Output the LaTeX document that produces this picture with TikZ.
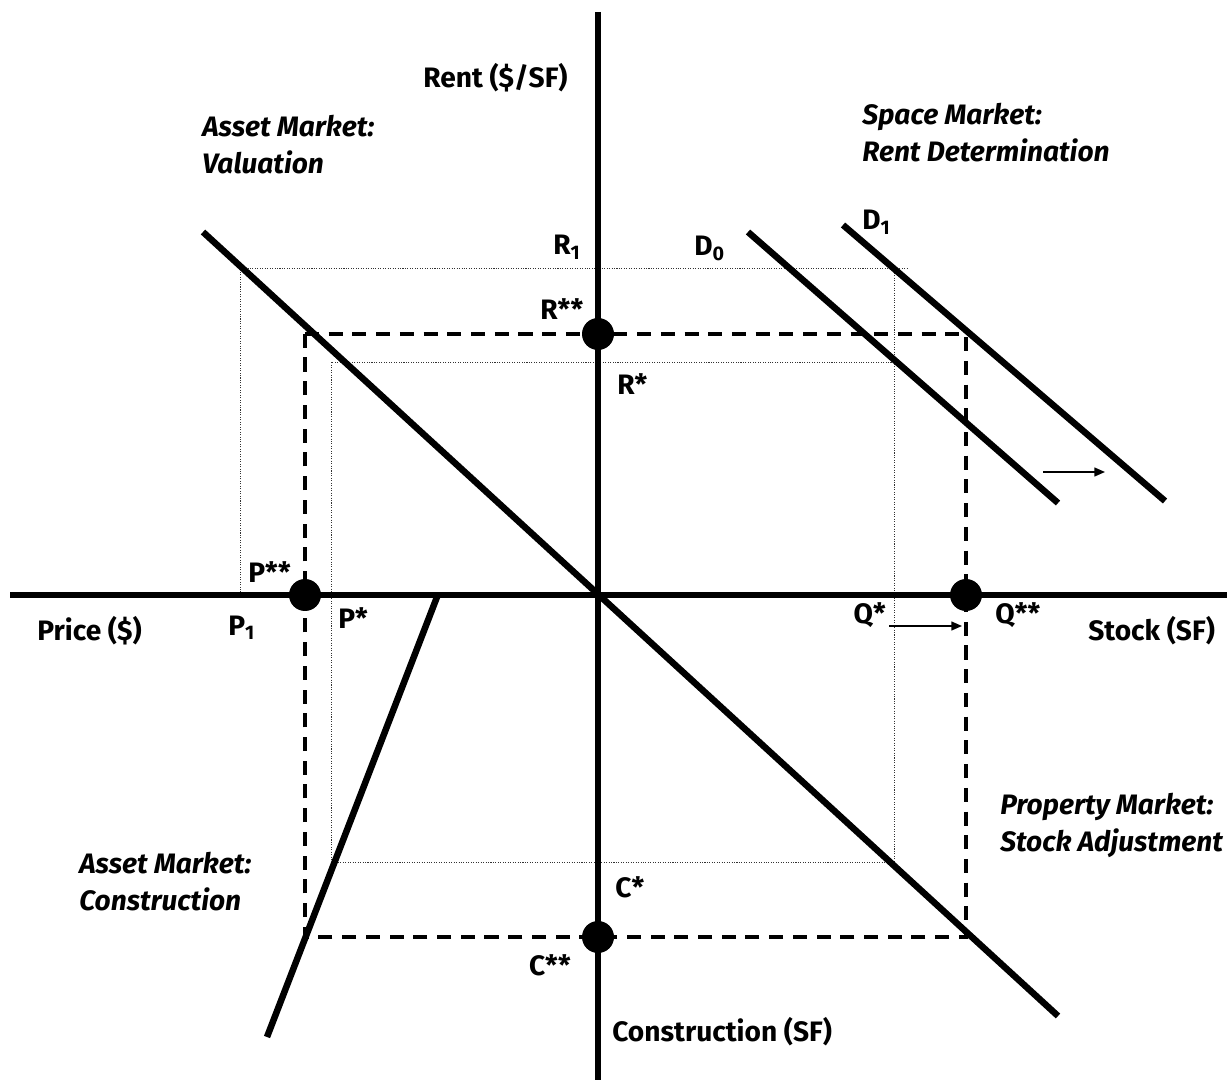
\documentclass[tikz,border=0pt]{standalone}
\usepackage{fontspec}
\setmainfont{Fira Sans}
\usepackage{tikz}
\usetikzlibrary{arrows.meta}
\usetikzlibrary{positioning}

\begin{document}
\begin{tikzpicture}[x=0.02cm,y=-0.02cm,
	axis/.style={line width=2.9pt},
	curve/.style={line width=3.7pt},
	guide/.style={line width=1.9pt,dash pattern=on 8pt off 5.5pt},
	faint/.style={line width=0.55pt,dash pattern=on 0.6pt off 0.8pt,black!80},
	shiftarrow/.style={line width=0.9pt,-{Triangle[length=6pt,width=5pt]}},
	dot/.style={circle,fill=black,inner sep=0pt,minimum size=0.64cm},
	lbl/.style={font=\bfseries\fontsize{16}{21}\selectfont,inner sep=0pt,anchor=base west},
	mkt/.style={font=\bfseries\itshape\fontsize{16}{21}\selectfont,align=left,inner sep=0pt,anchor=north west}]
  \useasboundingbox (0,0) rectangle (1227,1084);

  % axes
  \coordinate (rtop) at (598,12);
  \coordinate (cbot) at (598,1080);
  \coordinate (pend) at (10,595);
  \coordinate (qend) at (1227,595);

  % schedules
  \coordinate (val1) at (203,232);
  \coordinate (val2) at (1058,1016);
  \coordinate (con1) at (437,597);
  \coordinate (con2) at (267,1037);
  \coordinate (dzero1) at (748,232);
  \coordinate (dzero2) at (1058,503);
  \coordinate (done1) at (843,225);
  \coordinate (done2) at (1165,501);

  % first equilibrium (dotted) and demand shock R1
  \coordinate (rone) at (240,268);
  \coordinate (rone2) at (907,268);
  \coordinate (pone) at (240,595);
  \coordinate (qtop) at (894,268);
  \coordinate (rs1) at (331,362);
  \coordinate (rs2) at (894,362);
  \coordinate (cs1) at (331,862);
  \coordinate (cs2) at (894,862);

  % new equilibrium (dashed)
  \coordinate (rss1) at (305,334);
  \coordinate (rss2) at (966,334);
  \coordinate (css2) at (966,937);
  \coordinate (css1) at (305,937);

  \draw[faint] (pone) -- (rone) -- (rone2);
  \draw[faint] (qtop) -- (cs2);
  \draw[faint] (rs2) -- (rs1) -- (cs1) -- (cs2);
  \draw[guide] (rss1) -- (rss2) -- (css2) -- (css1) -- cycle;

  \draw[curve] (val1) -- (val2);
  \draw[curve] (con1) -- (con2);
  \draw[curve] (dzero1) -- (dzero2);
  \draw[curve] (done1) -- (done2);
  \draw[axis] (rtop) -- (cbot);
  \draw[axis] (pend) -- (qend);

  \node[dot] (rss) at (598,334) {};
  \node[dot] (pss) at (305,595) {};
  \node[dot] (qss) at (966,595) {};
  \node[dot] (css) at (598,937) {};

  \coordinate (shift1) at (1043,472);
  \coordinate (shift2) at (1105,472);
  \coordinate (qmove1) at (889,626);
  \coordinate (qmove2) at (962,626);
  \draw[shiftarrow] (shift1) -- (shift2);
  \draw[shiftarrow] (qmove1) -- (qmove2);

  % axis titles
  \node[lbl] (rent) at (423,88) {Rent (\$/SF)};
  \node[lbl] (price) at (37,640) {Price (\$)};
  \node[lbl] (stock) at (1088,640) {Stock (SF)};
  \node[lbl] (constr) at (612,1041) {Construction (SF)};

  % point labels
  \node[lbl] (lrone) at (553,255) {R\textsubscript{1}};
  \node[lbl] (lrss) at (540,320) {R**};
  \node[lbl] (lrs) at (617,395) {R*};
  \node[lbl] (ldzero) at (694,256) {D\textsubscript{0}};
  \node[lbl] (ldone) at (862,230) {D\textsubscript{1}};
  \node[lbl] (lpss) at (248,582) {P**};
  \node[lbl] (lpone) at (228,635) {P\textsubscript{1}};
  \node[lbl] (lps) at (338,628) {P*};
  \node[lbl,anchor=base east] (lqs) at (886,623) {Q*};
  \node[lbl] (lqss) at (995,623) {Q**};
  \node[lbl] (lcs) at (615,897) {C*};
  \node[lbl,anchor=base east] (lcss) at (571,975) {C**};

  % quadrant titles
  \node[mkt] (valuation) at (202,115) {Asset Market:\\Valuation};
  \node[mkt] (space) at (862,103) {Space Market:\\Rent Determination};
  \node[mkt] (adjust) at (1000,793) {Property Market:\\Stock Adjustment};
  \node[mkt] (building) at (79,852) {Asset Market:\\Construction};
\end{tikzpicture}
\end{document}
